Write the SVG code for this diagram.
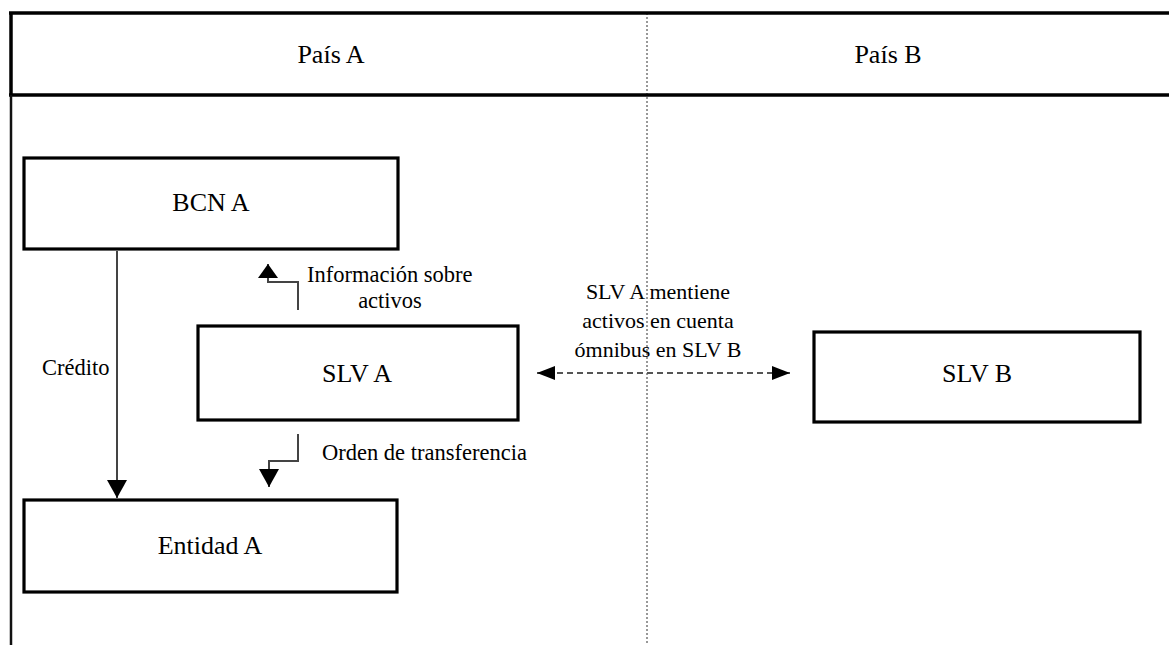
<svg xmlns="http://www.w3.org/2000/svg" width="1169" height="645" viewBox="0 0 1169 645">
<style>
  .bg { fill: #ffffff; }
  .frame { stroke: #000; stroke-width: 3.5; fill: none; }
  .border { stroke: #111; stroke-width: 2.5; fill: none; }
  .divider { stroke: #777; stroke-width: 1.5; stroke-dasharray: 2 2; fill: none; }
  .box { fill: #fff; stroke: #000; stroke-width: 3.2; }
  .big { font-size: 26px; fill: #000; text-anchor: middle; }
  .lbl { font-size: 22.5px; fill: #000; }
  .mid { font-size: 22px; fill: #000; text-anchor: middle; }
  .conn { stroke: #444; stroke-width: 2; fill: none; }
  .dash { stroke: #555; stroke-width: 2; fill: none; stroke-dasharray: 6 4; }
</style>
<defs>
  <marker id="ah" viewBox="0 0 18 20" refX="18" refY="10" markerWidth="18" markerHeight="20" markerUnits="userSpaceOnUse" orient="auto-start-reverse">
    <path d="M0,0 L18,10 L0,20 z" fill="#000"/>
  </marker>
  <marker id="ahs" viewBox="0 0 14 20" refX="14" refY="10" markerWidth="14" markerHeight="20" markerUnits="userSpaceOnUse" orient="auto-start-reverse">
    <path d="M0,0 L14,10 L0,20 z" fill="#000"/>
  </marker>
  <marker id="ahd" viewBox="0 0 18 14" refX="18" refY="7" markerWidth="18" markerHeight="14" markerUnits="userSpaceOnUse" orient="auto-start-reverse">
    <path d="M0,0 L18,7 L0,14 z" fill="#000"/>
  </marker>
</defs>
<rect class="bg" x="0" y="0" width="1169" height="645"/>

<g font-family="Liberation Serif, DejaVu Serif, serif">
<g id="frame">
  <line class="divider" x1="647" y1="13" x2="647" y2="645"/>
  <line class="frame" x1="9" y1="13" x2="1169" y2="13"/>
  <line class="frame" x1="9" y1="95" x2="1169" y2="95"/>
  <line class="frame" x1="11" y1="13" x2="11" y2="95"/>
  <line class="border" x1="11" y1="95" x2="11" y2="645"/>
  <text class="big" x="331" y="63">País A</text>
  <text class="big" x="888" y="63">País B</text>
</g>

<g id="connectors">
  <line class="conn" x1="117" y1="251" x2="117" y2="498" marker-end="url(#ah)"/>
  <path class="conn" d="M298,310 V282 H268 V264" marker-end="url(#ahs)"/>
  <path class="conn" d="M298,434 V461 H269 V487" marker-end="url(#ah)"/>
  <path class="dash" d="M537,373 H790" marker-start="url(#ahd)" marker-end="url(#ahd)"/>
  <text class="lbl" x="42" y="375">Crédito</text>
  <text class="lbl" x="307" y="282">Información sobre</text>
  <text class="lbl" x="390" y="308" text-anchor="middle">activos</text>
  <text class="lbl" x="322" y="460">Orden de transferencia</text>
  <text class="mid" x="658" y="299">SLV A mentiene</text>
  <text class="mid" x="658" y="328">activos en cuenta</text>
  <text class="mid" x="658" y="357">ómnibus en SLV B</text>
</g>

<g id="bcn-a">
  <rect class="box" x="24" y="158" width="374" height="91"/>
  <text class="big" x="211" y="211">BCN A</text>
</g>

<g id="slv-a">
  <rect class="box" x="198" y="326" width="320" height="94"/>
  <text class="big" x="357" y="382">SLV A</text>
</g>

<g id="entidad-a">
  <rect class="box" x="24" y="500" width="373" height="92"/>
  <text class="big" x="210" y="554">Entidad A</text>
</g>

<g id="slv-b">
  <rect class="box" x="814" y="332" width="326" height="90"/>
  <text class="big" x="977" y="382">SLV B</text>
</g>
</g>
</svg>
